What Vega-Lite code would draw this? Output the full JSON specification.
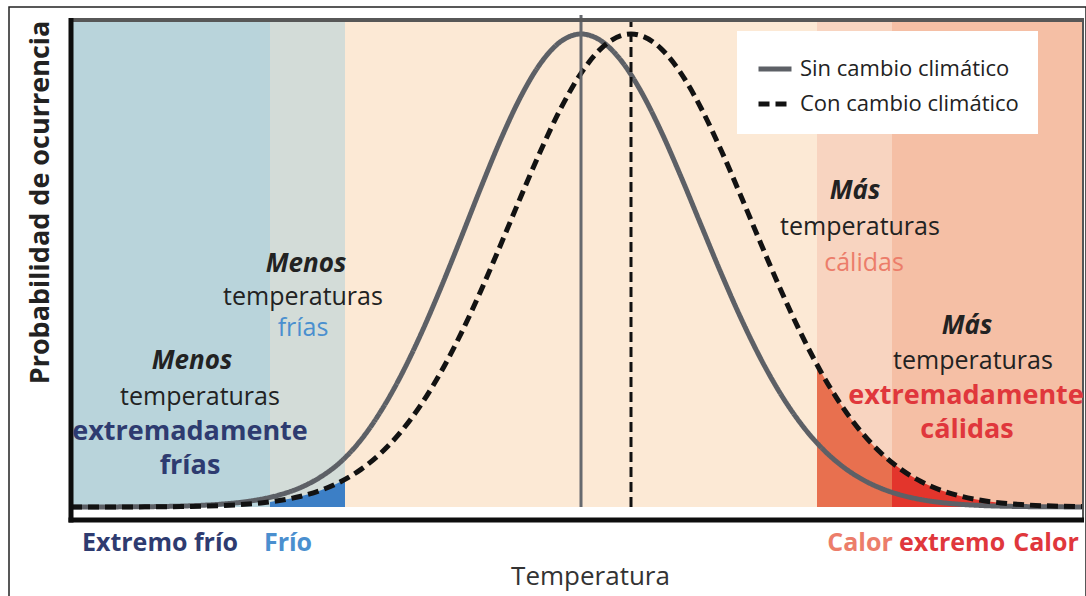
{
  "$schema": "https://vega.github.io/schema/vega-lite/v6.json",
  "width": 1077,
  "height": 592,
  "autosize": {"type": "none"},
  "padding": {"left": 9, "top": 7, "right": 0, "bottom": 0},
  "background": "white",
  "config": {
    "view": {"stroke": "#222222", "strokeWidth": 1.5},
    "font": "Open Sans",
    "axis": {"domain": false, "ticks": false, "labels": false, "grid": false},
    "axisX": {"titleFont": "Open Sans", "titleFontSize": 26, "titleFontWeight": "normal", "titleColor": "#333333", "titleX": 581, "titleY": -23, "titleAlign": "center", "titleBaseline": "middle"},
    "axisY": {"titleFont": "Open Sans", "titleFontSize": 27, "titleFontWeight": "bold", "titleColor": "#222222", "titleAngle": -90, "titleX": 31, "titleY": 195, "titleAlign": "center", "titleBaseline": "middle"}
  },
  "datasets": {
    "bandas": [
      {"t": -5.10, "t2": -3.11, "zona": "Extremo frío"},
      {"t": -3.11, "t2": -2.36, "zona": "Frío"},
      {"t": -2.36, "t2": 2.36, "zona": "Normal"},
      {"t": 2.36, "t2": 3.11, "zona": "Calor"},
      {"t": 3.11, "t2": 5.02, "zona": "Calor extremo"}
    ],
    "rellenos": [
      {"t": -3.11, "p": 0.0108, "tramo": "Frío"},
      {"t": -3.0, "p": 0.0142, "tramo": "Frío"},
      {"t": -2.8, "p": 0.0228, "tramo": "Frío"},
      {"t": -2.6, "p": 0.0355, "tramo": "Frío"},
      {"t": -2.4, "p": 0.0539, "tramo": "Frío"},
      {"t": -2.36, "p": 0.0584, "tramo": "Frío"},
      {"t": 2.36, "p": 0.3008, "tramo": "Calor"},
      {"t": 2.4, "p": 0.2855, "tramo": "Calor"},
      {"t": 2.6, "p": 0.2163, "tramo": "Calor"},
      {"t": 2.8, "p": 0.1593, "tramo": "Calor"},
      {"t": 3.0, "p": 0.1142, "tramo": "Calor"},
      {"t": 3.11, "p": 0.0939, "tramo": "Calor"},
      {"t": 3.11, "p": 0.0939, "tramo": "Calor extremo"},
      {"t": 3.2, "p": 0.0796, "tramo": "Calor extremo"},
      {"t": 3.4, "p": 0.0539, "tramo": "Calor extremo"},
      {"t": 3.6, "p": 0.0355, "tramo": "Calor extremo"},
      {"t": 3.8, "p": 0.0228, "tramo": "Calor extremo"},
      {"t": 4.0, "p": 0.0142, "tramo": "Calor extremo"},
      {"t": 4.2, "p": 0.0086, "tramo": "Calor extremo"}
    ],
    "curvas": [
      {"t": -5.1, "p": 0.0000, "serie": "Sin cambio climático"},
      {"t": -4.6, "p": 0.0003, "serie": "Sin cambio climático"},
      {"t": -4.2, "p": 0.0010, "serie": "Sin cambio climático"},
      {"t": -4.0, "p": 0.0019, "serie": "Sin cambio climático"},
      {"t": -3.8, "p": 0.0035, "serie": "Sin cambio climático"},
      {"t": -3.6, "p": 0.0060, "serie": "Sin cambio climático"},
      {"t": -3.4, "p": 0.0100, "serie": "Sin cambio climático"},
      {"t": -3.2, "p": 0.0165, "serie": "Sin cambio climático"},
      {"t": -3.0, "p": 0.0265, "serie": "Sin cambio climático"},
      {"t": -2.8, "p": 0.0415, "serie": "Sin cambio climático"},
      {"t": -2.6, "p": 0.0640, "serie": "Sin cambio climático"},
      {"t": -2.4, "p": 0.0960, "serie": "Sin cambio climático"},
      {"t": -2.2, "p": 0.1420, "serie": "Sin cambio climático"},
      {"t": -2.0, "p": 0.2030, "serie": "Sin cambio climático"},
      {"t": -1.8, "p": 0.2780, "serie": "Sin cambio climático"},
      {"t": -1.6, "p": 0.3660, "serie": "Sin cambio climático"},
      {"t": -1.4, "p": 0.4642, "serie": "Sin cambio climático"},
      {"t": -1.2, "p": 0.5690, "serie": "Sin cambio climático"},
      {"t": -1.0, "p": 0.6760, "serie": "Sin cambio climático"},
      {"t": -0.8, "p": 0.7783, "serie": "Sin cambio climático"},
      {"t": -0.6, "p": 0.8685, "serie": "Sin cambio climático"},
      {"t": -0.4, "p": 0.9393, "serie": "Sin cambio climático"},
      {"t": -0.2, "p": 0.9845, "serie": "Sin cambio climático"},
      {"t": 0.0, "p": 1.0000, "serie": "Sin cambio climático"},
      {"t": 0.2, "p": 0.9857, "serie": "Sin cambio climático"},
      {"t": 0.4, "p": 0.9442, "serie": "Sin cambio climático"},
      {"t": 0.6, "p": 0.8787, "serie": "Sin cambio climático"},
      {"t": 0.8, "p": 0.7947, "serie": "Sin cambio climático"},
      {"t": 1.0, "p": 0.6983, "serie": "Sin cambio climático"},
      {"t": 1.2, "p": 0.5963, "serie": "Sin cambio climático"},
      {"t": 1.4, "p": 0.4947, "serie": "Sin cambio climático"},
      {"t": 1.6, "p": 0.3988, "serie": "Sin cambio climático"},
      {"t": 1.8, "p": 0.3124, "serie": "Sin cambio climático"},
      {"t": 2.0, "p": 0.2378, "serie": "Sin cambio climático"},
      {"t": 2.2, "p": 0.1759, "serie": "Sin cambio climático"},
      {"t": 2.4, "p": 0.1264, "serie": "Sin cambio climático"},
      {"t": 2.6, "p": 0.0883, "serie": "Sin cambio climático"},
      {"t": 2.8, "p": 0.0599, "serie": "Sin cambio climático"},
      {"t": 3.0, "p": 0.0395, "serie": "Sin cambio climático"},
      {"t": 3.2, "p": 0.0253, "serie": "Sin cambio climático"},
      {"t": 3.4, "p": 0.0157, "serie": "Sin cambio climático"},
      {"t": 3.6, "p": 0.0095, "serie": "Sin cambio climático"},
      {"t": 3.8, "p": 0.0056, "serie": "Sin cambio climático"},
      {"t": 4.0, "p": 0.0032, "serie": "Sin cambio climático"},
      {"t": 4.4, "p": 0.0010, "serie": "Sin cambio climático"},
      {"t": 4.8, "p": 0.0003, "serie": "Sin cambio climático"},
      {"t": 5.02, "p": 0.0001, "serie": "Sin cambio climático"},
      {"t": -5.1, "p": 0.0000, "serie": "Con cambio climático"},
      {"t": -4.6, "p": 0.0001, "serie": "Con cambio climático"},
      {"t": -4.2, "p": 0.0005, "serie": "Con cambio climático"},
      {"t": -4.0, "p": 0.0009, "serie": "Con cambio climático"},
      {"t": -3.8, "p": 0.0016, "serie": "Con cambio climático"},
      {"t": -3.6, "p": 0.0029, "serie": "Con cambio climático"},
      {"t": -3.4, "p": 0.0051, "serie": "Con cambio climático"},
      {"t": -3.2, "p": 0.0086, "serie": "Con cambio climático"},
      {"t": -3.0, "p": 0.0142, "serie": "Con cambio climático"},
      {"t": -2.8, "p": 0.0228, "serie": "Con cambio climático"},
      {"t": -2.6, "p": 0.0355, "serie": "Con cambio climático"},
      {"t": -2.4, "p": 0.0539, "serie": "Con cambio climático"},
      {"t": -2.2, "p": 0.0796, "serie": "Con cambio climático"},
      {"t": -2.0, "p": 0.1142, "serie": "Con cambio climático"},
      {"t": -1.8, "p": 0.1593, "serie": "Con cambio climático"},
      {"t": -1.6, "p": 0.2163, "serie": "Con cambio climático"},
      {"t": -1.4, "p": 0.2855, "serie": "Con cambio climático"},
      {"t": -1.2, "p": 0.3666, "serie": "Con cambio climático"},
      {"t": -1.0, "p": 0.4578, "serie": "Con cambio climático"},
      {"t": -0.8, "p": 0.5561, "serie": "Con cambio climático"},
      {"t": -0.6, "p": 0.6570, "serie": "Con cambio climático"},
      {"t": -0.4, "p": 0.7548, "serie": "Con cambio climático"},
      {"t": -0.2, "p": 0.8436, "serie": "Con cambio climático"},
      {"t": 0.0, "p": 0.9169, "serie": "Con cambio climático"},
      {"t": 0.2, "p": 0.9692, "serie": "Con cambio climático"},
      {"t": 0.4, "p": 0.9965, "serie": "Con cambio climático"},
      {"t": 0.5, "p": 1.0000, "serie": "Con cambio climático"},
      {"t": 0.6, "p": 0.9965, "serie": "Con cambio climático"},
      {"t": 0.8, "p": 0.9692, "serie": "Con cambio climático"},
      {"t": 1.0, "p": 0.9169, "serie": "Con cambio climático"},
      {"t": 1.2, "p": 0.8436, "serie": "Con cambio climático"},
      {"t": 1.4, "p": 0.7548, "serie": "Con cambio climático"},
      {"t": 1.6, "p": 0.6570, "serie": "Con cambio climático"},
      {"t": 1.8, "p": 0.5561, "serie": "Con cambio climático"},
      {"t": 2.0, "p": 0.4578, "serie": "Con cambio climático"},
      {"t": 2.2, "p": 0.3666, "serie": "Con cambio climático"},
      {"t": 2.4, "p": 0.2855, "serie": "Con cambio climático"},
      {"t": 2.6, "p": 0.2163, "serie": "Con cambio climático"},
      {"t": 2.8, "p": 0.1593, "serie": "Con cambio climático"},
      {"t": 3.0, "p": 0.1142, "serie": "Con cambio climático"},
      {"t": 3.2, "p": 0.0796, "serie": "Con cambio climático"},
      {"t": 3.4, "p": 0.0539, "serie": "Con cambio climático"},
      {"t": 3.6, "p": 0.0355, "serie": "Con cambio climático"},
      {"t": 3.8, "p": 0.0228, "serie": "Con cambio climático"},
      {"t": 4.0, "p": 0.0142, "serie": "Con cambio climático"},
      {"t": 4.2, "p": 0.0086, "serie": "Con cambio climático"},
      {"t": 4.4, "p": 0.0051, "serie": "Con cambio climático"},
      {"t": 4.6, "p": 0.0029, "serie": "Con cambio climático"},
      {"t": 4.8, "p": 0.0016, "serie": "Con cambio climático"},
      {"t": 5.02, "p": 0.0008, "serie": "Con cambio climático"}
    ],
    "textos": [
      {"t": -2.75, "p": 0.514, "texto": "Menos", "estilo": "enfasis", "clase": "neutro"},
      {"t": -2.78, "p": 0.444, "texto": "temperaturas", "estilo": "normal", "clase": "neutro"},
      {"t": -2.78, "p": 0.378, "texto": "frías", "estilo": "normal", "clase": "frío"},
      {"t": -3.89, "p": 0.309, "texto": "Menos", "estilo": "enfasis", "clase": "neutro"},
      {"t": -3.81, "p": 0.233, "texto": "temperaturas", "estilo": "normal", "clase": "neutro"},
      {"t": -3.91, "p": 0.159, "texto": "extremadamente", "estilo": "fuerte", "clase": "frío extremo"},
      {"t": -3.91, "p": 0.087, "texto": "frías", "estilo": "fuerte", "clase": "frío extremo"},
      {"t": 2.74, "p": 0.668, "texto": "Más", "estilo": "enfasis", "clase": "neutro"},
      {"t": 2.79, "p": 0.592, "texto": "temperaturas", "estilo": "normal", "clase": "neutro"},
      {"t": 2.83, "p": 0.516, "texto": "cálidas", "estilo": "normal", "clase": "cálido"},
      {"t": 3.86, "p": 0.382, "texto": "Más", "estilo": "enfasis", "clase": "neutro"},
      {"t": 3.92, "p": 0.308, "texto": "temperaturas", "estilo": "normal", "clase": "neutro"},
      {"t": 3.85, "p": 0.235, "texto": "extremadamente", "estilo": "fuerte", "clase": "calor extremo"},
      {"t": 3.86, "p": 0.163, "texto": "cálidas", "estilo": "fuerte", "clase": "calor extremo"},
      {"t": -4.21, "p": -0.076, "texto": "Extremo frío", "estilo": "eje", "clase": "frío extremo"},
      {"t": -2.93, "p": -0.076, "texto": "Frío", "estilo": "eje", "clase": "frío"},
      {"t": 2.79, "p": -0.076, "texto": "Calor", "estilo": "eje", "clase": "cálido"},
      {"t": 3.71, "p": -0.076, "texto": "extremo", "estilo": "eje", "clase": "calor extremo"},
      {"t": 4.65, "p": -0.076, "texto": "Calor", "estilo": "eje", "clase": "calor extremo"}
    ]
  },
  "layer": [
    {
      "data": {"name": "bandas"},
      "mark": {"type": "rect"},
      "encoding": {
        "x": {"field": "t", "type": "quantitative", "scale": {"domain": [-5.72, 5.05], "nice": false, "zero": false}, "axis": {"title": "Temperatura"}},
        "x2": {"field": "t2"},
        "y": {"datum": 0, "type": "quantitative", "scale": {"domain": [-0.1945, 1.0571], "nice": false, "zero": false}, "axis": {"title": "Probabilidad de ocurrencia"}},
        "y2": {"datum": 1.0296},
        "fill": {"field": "zona", "type": "nominal", "legend": null,
          "scale": {"domain": ["Extremo frío", "Frío", "Normal", "Calor", "Calor extremo"], "range": ["#b9d4db", "#d3dcd8", "#fce9d5", "#f8d4c0", "#f5bfa5"]}}
      }
    },
    {
      "data": {"name": "rellenos"},
      "mark": {"type": "area", "interpolate": "monotone"},
      "encoding": {
        "x": {"field": "t", "type": "quantitative", "scale": {"domain": [-5.72, 5.05], "nice": false, "zero": false}, "axis": {"title": "Temperatura"}},
        "y": {"field": "p", "type": "quantitative", "stack": null, "scale": {"domain": [-0.1945, 1.0571], "nice": false, "zero": false}, "axis": {"title": "Probabilidad de ocurrencia"}},
        "y2": {"datum": 0},
        "fill": {"field": "tramo", "type": "nominal", "legend": null,
          "scale": {"domain": ["Frío", "Calor", "Calor extremo"], "range": ["#3c7fc6", "#e8704f", "#e3352c"]}}
      }
    },
    {
      "data": {"name": "curvas"},
      "transform": [{"filter": "datum.serie === 'Sin cambio climático'"}],
      "mark": {"type": "line", "interpolate": "monotone", "strokeWidth": 5, "strokeCap": "butt"},
      "encoding": {
        "x": {"field": "t", "type": "quantitative", "scale": {"domain": [-5.72, 5.05], "nice": false, "zero": false}, "axis": {"title": "Temperatura"}},
        "y": {"field": "p", "type": "quantitative", "scale": {"domain": [-0.1945, 1.0571], "nice": false, "zero": false}, "axis": {"title": "Probabilidad de ocurrencia"}},
        "stroke": {"field": "serie", "type": "nominal",
          "scale": {"domain": ["Sin cambio climático", "Con cambio climático"], "range": ["#5d6066", "#121212"]},
          "legend": {"title": null, "orient": "none", "legendX": 728, "legendY": 24, "direction": "vertical", "fillColor": "white", "padding": 19, "symbolType": "stroke", "symbolSize": 1089, "symbolStrokeWidth": 5, "labelFont": "Open Sans", "labelFontSize": 22, "labelColor": "#222222", "labelOffset": 6, "rowPadding": 5, "labelLimit": 400}},
        "strokeDash": {"field": "serie", "type": "nominal",
          "scale": {"domain": ["Sin cambio climático", "Con cambio climático"], "range": [[1, 0], [11, 6]]},
          "legend": {"title": null, "orient": "none", "legendX": 728, "legendY": 24, "direction": "vertical", "fillColor": "white", "padding": 19, "symbolType": "stroke", "symbolSize": 1089, "symbolStrokeWidth": 5, "labelFont": "Open Sans", "labelFontSize": 22, "labelColor": "#222222", "labelOffset": 6, "rowPadding": 5, "labelLimit": 400}}
      }
    },
    {
      "data": {"name": "curvas"},
      "transform": [{"filter": "datum.serie === 'Con cambio climático'"}],
      "mark": {"type": "line", "interpolate": "monotone", "strokeWidth": 5, "strokeCap": "butt"},
      "encoding": {
        "x": {"field": "t", "type": "quantitative", "scale": {"domain": [-5.72, 5.05], "nice": false, "zero": false}, "axis": {"title": "Temperatura"}},
        "y": {"field": "p", "type": "quantitative", "scale": {"domain": [-0.1945, 1.0571], "nice": false, "zero": false}, "axis": {"title": "Probabilidad de ocurrencia"}},
        "stroke": {"field": "serie", "type": "nominal",
          "scale": {"domain": ["Sin cambio climático", "Con cambio climático"], "range": ["#5d6066", "#121212"]},
          "legend": {"title": null, "orient": "none", "legendX": 728, "legendY": 24, "direction": "vertical", "fillColor": "white", "padding": 19, "symbolType": "stroke", "symbolSize": 1089, "symbolStrokeWidth": 5, "labelFont": "Open Sans", "labelFontSize": 22, "labelColor": "#222222", "labelOffset": 6, "rowPadding": 5, "labelLimit": 400}},
        "strokeDash": {"field": "serie", "type": "nominal",
          "scale": {"domain": ["Sin cambio climático", "Con cambio climático"], "range": [[1, 0], [11, 6]]},
          "legend": {"title": null, "orient": "none", "legendX": 728, "legendY": 24, "direction": "vertical", "fillColor": "white", "padding": 19, "symbolType": "stroke", "symbolSize": 1089, "symbolStrokeWidth": 5, "labelFont": "Open Sans", "labelFontSize": 22, "labelColor": "#222222", "labelOffset": 6, "rowPadding": 5, "labelLimit": 400}}
      }
    },
    {
      "data": {"values": [{}]},
      "mark": {"type": "rule", "color": "#66696e", "strokeWidth": 3},
      "encoding": {
        "x": {"datum": 0, "type": "quantitative", "scale": {"domain": [-5.72, 5.05], "nice": false, "zero": false}, "axis": {"title": "Temperatura"}},
        "y": {"datum": 0, "type": "quantitative", "scale": {"domain": [-0.1945, 1.0571], "nice": false, "zero": false}, "axis": {"title": "Probabilidad de ocurrencia"}},
        "y2": {"datum": 1.04}
      }
    },
    {
      "data": {"values": [{}]},
      "mark": {"type": "rule", "color": "#111111", "strokeWidth": 3, "strokeDash": [10, 5]},
      "encoding": {
        "x": {"datum": 0.5, "type": "quantitative", "scale": {"domain": [-5.72, 5.05], "nice": false, "zero": false}, "axis": {"title": "Temperatura"}},
        "y": {"datum": 0, "type": "quantitative", "scale": {"domain": [-0.1945, 1.0571], "nice": false, "zero": false}, "axis": {"title": "Probabilidad de ocurrencia"}},
        "y2": {"datum": 1.03}
      }
    },
    {
      "data": {"values": [{}]},
      "mark": {"type": "rule", "color": "#575757", "strokeWidth": 4},
      "encoding": {
        "x": {"datum": -5.10, "type": "quantitative", "scale": {"domain": [-5.72, 5.05], "nice": false, "zero": false}, "axis": {"title": "Temperatura"}},
        "x2": {"datum": 5.02},
        "y": {"datum": 1.0296, "type": "quantitative", "scale": {"domain": [-0.1945, 1.0571], "nice": false, "zero": false}, "axis": {"title": "Probabilidad de ocurrencia"}}
      }
    },
    {
      "data": {"values": [{}]},
      "mark": {"type": "rule", "color": "#555555", "strokeWidth": 2},
      "encoding": {
        "x": {"datum": 5.02, "type": "quantitative", "scale": {"domain": [-5.72, 5.05], "nice": false, "zero": false}, "axis": {"title": "Temperatura"}},
        "y": {"datum": -0.0275, "type": "quantitative", "scale": {"domain": [-0.1945, 1.0571], "nice": false, "zero": false}, "axis": {"title": "Probabilidad de ocurrencia"}},
        "y2": {"datum": 1.034}
      }
    },
    {
      "data": {"values": [{}]},
      "mark": {"type": "rule", "color": "#0d0d0d", "strokeWidth": 5},
      "encoding": {
        "x": {"datum": -5.125, "type": "quantitative", "scale": {"domain": [-5.72, 5.05], "nice": false, "zero": false}, "axis": {"title": "Temperatura"}},
        "x2": {"datum": 5.03},
        "y": {"datum": -0.0275, "type": "quantitative", "scale": {"domain": [-0.1945, 1.0571], "nice": false, "zero": false}, "axis": {"title": "Probabilidad de ocurrencia"}}
      }
    },
    {
      "data": {"values": [{}]},
      "mark": {"type": "rule", "color": "#0d0d0d", "strokeWidth": 5},
      "encoding": {
        "x": {"datum": -5.10, "type": "quantitative", "scale": {"domain": [-5.72, 5.05], "nice": false, "zero": false}, "axis": {"title": "Temperatura"}},
        "y": {"datum": -0.033, "type": "quantitative", "scale": {"domain": [-0.1945, 1.0571], "nice": false, "zero": false}, "axis": {"title": "Probabilidad de ocurrencia"}},
        "y2": {"datum": 1.034}
      }
    },
    {
      "data": {"name": "textos"},
      "transform": [{"filter": "datum.estilo === 'enfasis'"}],
      "mark": {"type": "text", "font": "Open Sans", "fontSize": 26, "fontWeight": "bold", "fontStyle": "italic", "align": "center", "baseline": "middle"},
      "encoding": {
        "x": {"field": "t", "type": "quantitative", "scale": {"domain": [-5.72, 5.05], "nice": false, "zero": false}, "axis": {"title": "Temperatura"}},
        "y": {"field": "p", "type": "quantitative", "scale": {"domain": [-0.1945, 1.0571], "nice": false, "zero": false}, "axis": {"title": "Probabilidad de ocurrencia"}},
        "text": {"field": "texto"},
        "color": {"field": "clase", "type": "nominal", "legend": null,
          "scale": {"domain": ["neutro", "frío", "frío extremo", "cálido", "calor extremo"], "range": ["#222222", "#4a8fcf", "#2e3b70", "#ec7d6a", "#e0373c"]}}
      }
    },
    {
      "data": {"name": "textos"},
      "transform": [{"filter": "datum.estilo === 'normal'"}],
      "mark": {"type": "text", "font": "Open Sans", "fontSize": 25, "fontWeight": "normal", "align": "center", "baseline": "middle"},
      "encoding": {
        "x": {"field": "t", "type": "quantitative", "scale": {"domain": [-5.72, 5.05], "nice": false, "zero": false}, "axis": {"title": "Temperatura"}},
        "y": {"field": "p", "type": "quantitative", "scale": {"domain": [-0.1945, 1.0571], "nice": false, "zero": false}, "axis": {"title": "Probabilidad de ocurrencia"}},
        "text": {"field": "texto"},
        "color": {"field": "clase", "type": "nominal", "legend": null,
          "scale": {"domain": ["neutro", "frío", "frío extremo", "cálido", "calor extremo"], "range": ["#222222", "#4a8fcf", "#2e3b70", "#ec7d6a", "#e0373c"]}}
      }
    },
    {
      "data": {"name": "textos"},
      "transform": [{"filter": "datum.estilo === 'fuerte'"}],
      "mark": {"type": "text", "font": "Open Sans", "fontSize": 27, "fontWeight": "bold", "align": "center", "baseline": "middle"},
      "encoding": {
        "x": {"field": "t", "type": "quantitative", "scale": {"domain": [-5.72, 5.05], "nice": false, "zero": false}, "axis": {"title": "Temperatura"}},
        "y": {"field": "p", "type": "quantitative", "scale": {"domain": [-0.1945, 1.0571], "nice": false, "zero": false}, "axis": {"title": "Probabilidad de ocurrencia"}},
        "text": {"field": "texto"},
        "color": {"field": "clase", "type": "nominal", "legend": null,
          "scale": {"domain": ["neutro", "frío", "frío extremo", "cálido", "calor extremo"], "range": ["#222222", "#4a8fcf", "#2e3b70", "#ec7d6a", "#e0373c"]}}
      }
    },
    {
      "data": {"name": "textos"},
      "transform": [{"filter": "datum.estilo === 'eje'"}],
      "mark": {"type": "text", "font": "Open Sans", "fontSize": 25, "fontWeight": "bold", "align": "center", "baseline": "middle"},
      "encoding": {
        "x": {"field": "t", "type": "quantitative", "scale": {"domain": [-5.72, 5.05], "nice": false, "zero": false}, "axis": {"title": "Temperatura"}},
        "y": {"field": "p", "type": "quantitative", "scale": {"domain": [-0.1945, 1.0571], "nice": false, "zero": false}, "axis": {"title": "Probabilidad de ocurrencia"}},
        "text": {"field": "texto"},
        "color": {"field": "clase", "type": "nominal", "legend": null,
          "scale": {"domain": ["neutro", "frío", "frío extremo", "cálido", "calor extremo"], "range": ["#222222", "#4a8fcf", "#2e3b70", "#ec7d6a", "#e0373c"]}}
      }
    }
  ],
  "resolve": {"scale": {"fill": "independent"}}
}
